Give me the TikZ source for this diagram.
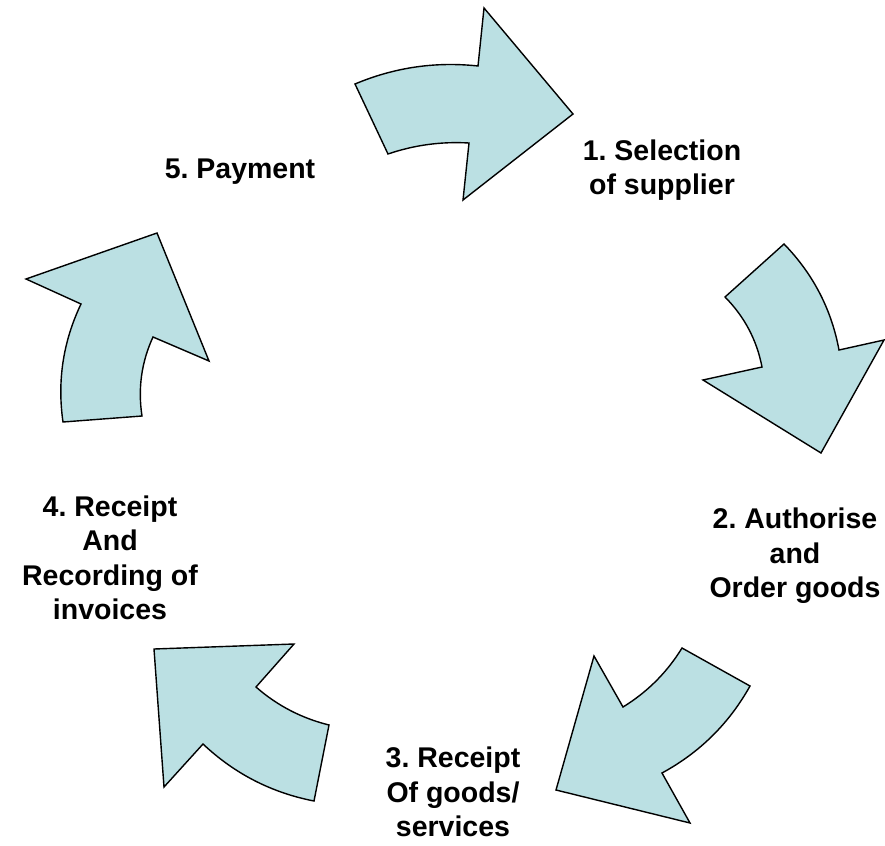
\documentclass[tikz,border=0pt]{standalone}
\usepackage{fontspec}
\setmainfont{Liberation Sans}
\definecolor{ringfill}{RGB}{187,224,227}
\begin{document}
\frenchspacing
\begin{tikzpicture}[x=1pt,y=-1pt,
  cyclearrow/.style={draw=black,fill=ringfill,line width=1.4pt,line join=miter},
  stage/.style={align=center,font=\fontsize{28.5}{34.5}\selectfont\bfseries,inner sep=0pt}]
\useasboundingbox (0,0) rectangle (885,845);

% five curved arrows forming the cycle
\draw[cyclearrow] (355,84) .. controls (394.5,67.4) and (435.5,61.4) .. (478,66) -- (484,8) -- (573,114)
  -- (463,200) -- (469,143) .. controls (441.3,141.4) and (414.3,145) .. (388,154) -- cycle;
\draw[cyclearrow] (725,297) -- (784,244) .. controls (813,273.8) and (831.4,309.2) .. (839,350)
  -- (884,340) -- (821,453) -- (703,380) -- (762,367) .. controls (756.8,340) and (744.4,316.6) .. cycle;
\draw[cyclearrow] (682,648) -- (750,686) .. controls (729.1,723.5) and (699.7,752.5) .. (662,773)
  -- (690,823) -- (556,790) -- (594,656) -- (623,707) .. controls (647.4,692) and (667,672.4) .. cycle;
\draw[cyclearrow] (329,725) -- (314,801) .. controls (271.5,792.7) and (234.5,773.7) .. (203,744)
  -- (164,787) -- (154,649) -- (294,644) -- (256,687) .. controls (277.2,705.6) and (301.6,718.2) .. cycle;
\draw[cyclearrow] (142,416) -- (63,422) .. controls (57.1,380.9) and (63.1,341.5) .. (81,304)
  -- (26,279) -- (157,233) -- (209,361) -- (153,337) .. controls (141.4,362.2) and (137.8,388.6) .. cycle;

% stage labels
\node[stage] (s1) at (662,170) {1. Selection\\of supplier};
\node[stage] (s2) at (795,556) {2. Authorise\\and\\Order goods};
\node[stage] (s3) at (453,792) {3. Receipt\\Of goods/\\services};
\node[stage] (s4) at (110,558) {4. Receipt\\And\\Recording of\\invoices};
\node[stage] (s5) at (240,172) {5. Payment};
\end{tikzpicture}
\end{document}
